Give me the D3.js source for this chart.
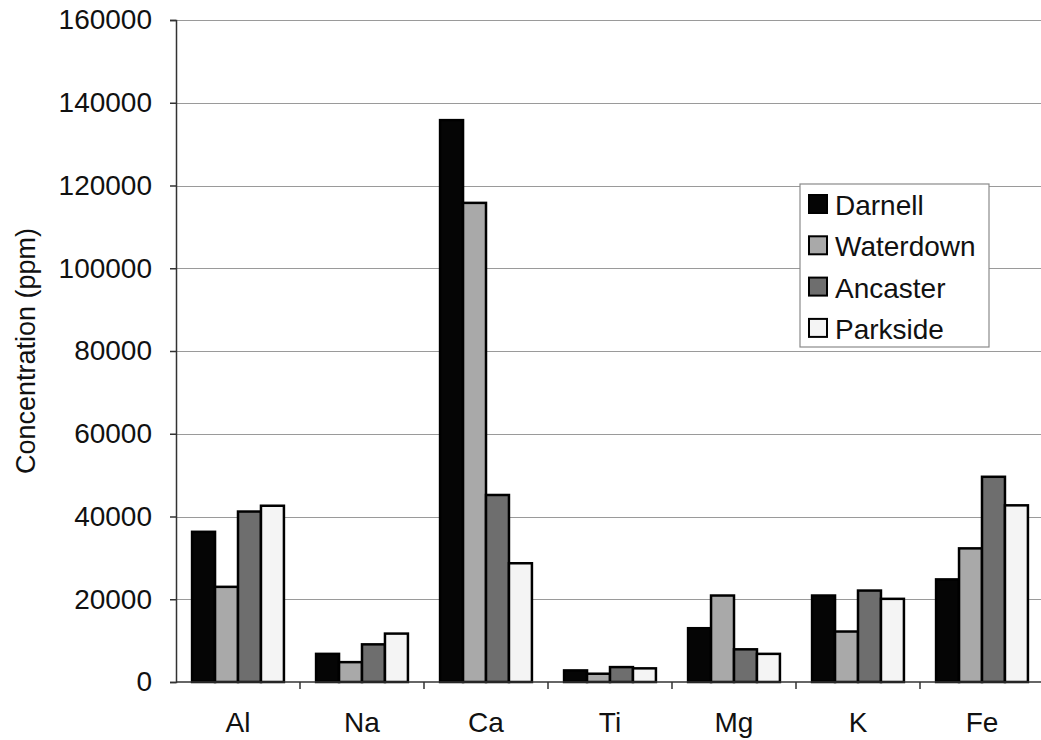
<!DOCTYPE html>
<html lang="en">
<head>
    <meta charset="UTF-8">
    <title>Concentration</title>
    <script src="https://cdn.jsdelivr.net/npm/d3@7"></script>
    <style>
        body {
          margin: 0;
          background: #fff;
        }
        text {
          font-family: "Liberation Sans", Arial, sans-serif;
          fill: #111;
        }
        .bar {
          stroke: #000;
          stroke-width: 2.5px;
        }
    </style>
</head>
<body>
    <script>
        let categories = ['Al', 'Na', 'Ca', 'Ti', 'Mg', 'K', 'Fe'];
        let seriesNames = ['Darnell', 'Waterdown', 'Ancaster', 'Parkside'];
        let darnell   = [36300, 6800, 135800, 2800, 13000, 20900, 24800];
        let waterdown = [23000, 4800, 115800, 2000, 20900, 12200, 32300];
        let ancaster  = [41200, 9100, 45200, 3600, 7900, 22100, 49600];
        let parkside  = [42600, 11700, 28700, 3300, 6800, 20100, 42700];
        let yTicks = [0, 20000, 40000, 60000, 80000, 100000, 120000, 140000, 160000];

        let colors = ['#050505', '#a9a9a9', '#6e6e6e', '#f4f4f4'];
        let series = [darnell, waterdown, ancaster, parkside];

        let w = 1041, h = 740;
        let mLeft = 176, mRight = 1044, mTop = 20, mBottom = 682;

        let svg = d3.select('body')
                    .append('svg')
                    .attr('width', w)
                    .attr('height', h);

        let x0 = d3.scaleBand()
                   .domain(categories)
                   .range([mLeft, mRight])
                   .padding(0);

        let x1 = d3.scaleBand()
                   .domain(seriesNames)
                   .range([0, x0.bandwidth()])
                   .paddingInner(0)
                   .paddingOuter(0.7);

        let y = d3.scaleLinear()
                  .domain([0, 160000])
                  .range([mBottom, mTop]);

        // gridlines
        svg.append('g')
           .selectAll('line')
           .data(yTicks.slice(1))
           .enter()
           .append('line')
           .attr('x1', mLeft)
           .attr('x2', mRight)
           .attr('y1', d => Math.round(y(d)) + 0.5)
           .attr('y2', d => Math.round(y(d)) + 0.5)
           .style('stroke', '#9a9a9a')
           .style('stroke-width', 1.2);

        // bars
        let rows = categories.map((c, i) => ({ cat: c, vals: series.map((s, j) => ({ name: seriesNames[j], v: s[i], k: j })) }));

        svg.append('g')
           .selectAll('g')
           .data(rows)
           .enter()
           .append('g')
           .attr('transform', d => 'translate(' + x0(d.cat) + ',0)')
           .selectAll('rect')
           .data(d => d.vals)
           .enter()
           .append('rect')
           .attr('class', 'bar')
           .attr('x', d => x1(d.name))
           .attr('width', x1.bandwidth())
           .attr('y', d => y(d.v))
           .attr('height', d => y(0) - y(d.v))
           .style('fill', d => colors[d.k]);

        // y axis
        let yAxis = d3.axisLeft(y)
                      .tickValues(yTicks)
                      .tickFormat(d3.format('d'))
                      .tickSize(6)
                      .tickPadding(18);

        let gy = svg.append('g')
                    .attr('transform', 'translate(' + mLeft + ',0)')
                    .call(yAxis);
        gy.selectAll('text').style('font-size', '28px');
        gy.selectAll('line, path').style('stroke', '#333').style('stroke-width', 1.5);

        // x axis
        let gx = svg.append('g')
                    .attr('transform', 'translate(0,' + mBottom + ')');
        gx.append('line')
          .attr('x1', mLeft).attr('x2', mRight)
          .attr('y1', 0).attr('y2', 0)
          .style('stroke', '#333').style('stroke-width', 1.5);
        gx.selectAll('.tk')
          .data(categories.slice(1))
          .enter()
          .append('line')
          .attr('class', 'tk')
          .attr('x1', d => x0(d)).attr('x2', d => x0(d))
          .attr('y1', 0).attr('y2', 7)
          .style('stroke', '#333').style('stroke-width', 1.5);
        gx.selectAll('text')
          .data(categories)
          .enter()
          .append('text')
          .attr('x', d => x0(d) + x0.bandwidth() / 2)
          .attr('y', 50)
          .attr('text-anchor', 'middle')
          .style('font-size', '28px')
          .text(d => d);

        // y title
        svg.append('text')
           .attr('transform', 'translate(35,' + (mTop + mBottom) / 2 + ') rotate(-90)')
           .attr('text-anchor', 'middle')
           .style('font-size', '27px')
           .text('Concentration (ppm)');

        // legend
        let lg = svg.append('g').attr('transform', 'translate(800,184)');
        lg.append('rect')
          .attr('width', 189).attr('height', 163)
          .style('fill', '#fff')
          .style('stroke', '#8a8a8a')
          .style('stroke-width', 1.2);
        let item = lg.selectAll('g')
                     .data(seriesNames)
                     .enter()
                     .append('g')
                     .attr('transform', (d, i) => 'translate(9,' + (11 + i * 41.3) + ')');
        item.append('rect')
            .attr('width', 18).attr('height', 18)
            .style('fill', (d, i) => colors[i])
            .style('stroke', '#000')
            .style('stroke-width', 2);
        item.append('text')
            .attr('x', 26)
            .attr('y', 20)
            .style('font-size', '28px')
            .text(d => d);
    </script>
</body>
</html>
